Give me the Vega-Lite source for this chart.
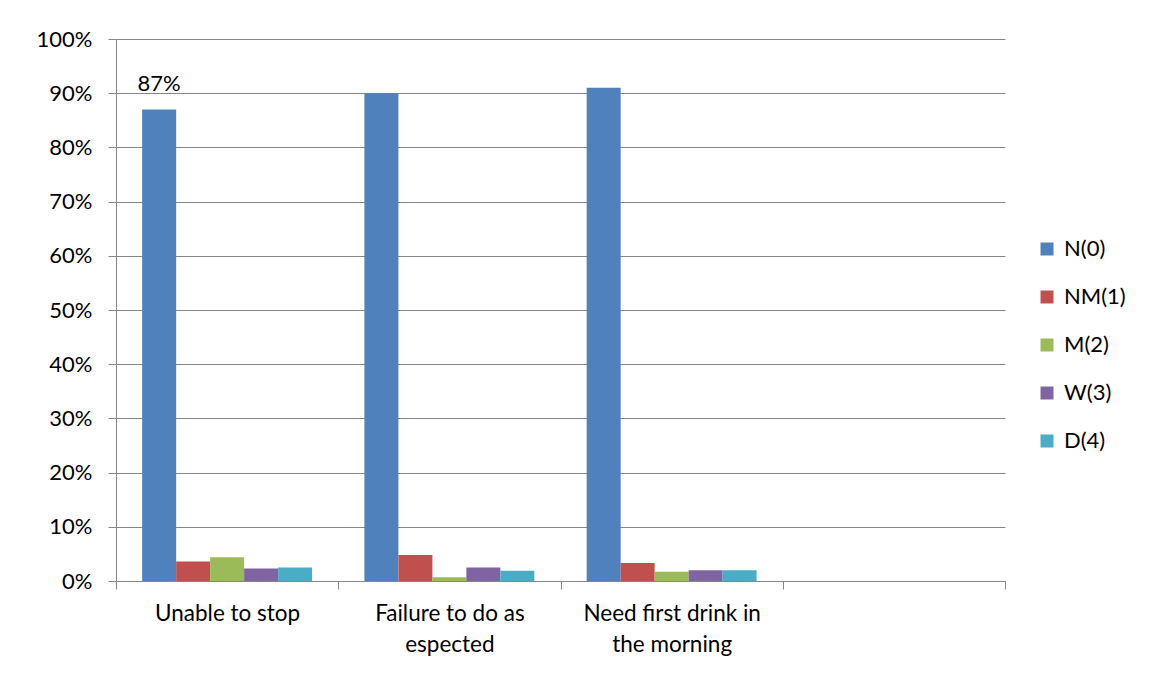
{
  "$schema": "https://vega.github.io/schema/vega-lite/v6.json",
  "width": 889,
  "height": 542,
  "autosize": "none",
  "padding": {"left": 116, "top": 39, "right": 148, "bottom": 95},
  "background": "white",
  "config": {
    "font": "Lato",
    "view": {"stroke": null}
  },
  "data": {
    "values": [
      {"category": "Unable to stop", "series": "N(0)", "value": 0.87, "label": "87%"},
      {"category": "Unable to stop", "series": "NM(1)", "value": 0.036, "label": ""},
      {"category": "Unable to stop", "series": "M(2)", "value": 0.044, "label": ""},
      {"category": "Unable to stop", "series": "W(3)", "value": 0.023, "label": ""},
      {"category": "Unable to stop", "series": "D(4)", "value": 0.025, "label": ""},
      {"category": "Failure to do as espected", "series": "N(0)", "value": 0.90, "label": ""},
      {"category": "Failure to do as espected", "series": "NM(1)", "value": 0.048, "label": ""},
      {"category": "Failure to do as espected", "series": "M(2)", "value": 0.007, "label": ""},
      {"category": "Failure to do as espected", "series": "W(3)", "value": 0.025, "label": ""},
      {"category": "Failure to do as espected", "series": "D(4)", "value": 0.019, "label": ""},
      {"category": "Need first drink in the morning", "series": "N(0)", "value": 0.91, "label": ""},
      {"category": "Need first drink in the morning", "series": "NM(1)", "value": 0.033, "label": ""},
      {"category": "Need first drink in the morning", "series": "M(2)", "value": 0.017, "label": ""},
      {"category": "Need first drink in the morning", "series": "W(3)", "value": 0.020, "label": ""},
      {"category": "Need first drink in the morning", "series": "D(4)", "value": 0.020, "label": ""}
    ]
  },
  "encoding": {
    "x": {
      "field": "category",
      "type": "nominal",
      "sort": null,
      "scale": {
        "domain": ["Unable to stop", "Failure to do as espected", "Need first drink in the morning", "(empty)"],
        "paddingInner": 0,
        "paddingOuter": 0
      },
      "axis": {
        "title": null,
        "labelAngle": 0,
        "labelFontSize": 22.5,
        "labelColor": "#000000",
        "labelPadding": 13,
        "labelLineHeight": 31,
        "labelBaseline": "top",
        "labelExpr": "datum.value == 'Failure to do as espected' ? ['Failure to do as', 'espected'] : datum.value == 'Need first drink in the morning' ? ['Need first drink in', 'the morning'] : datum.value == '(empty)' ? '' : datum.value",
        "tickBand": "extent",
        "tickSize": 8,
        "tickColor": "#868686",
        "domainColor": "#868686",
        "grid": false
      }
    },
    "xOffset": {
      "field": "series",
      "type": "nominal",
      "sort": ["N(0)", "NM(1)", "M(2)", "W(3)", "D(4)"],
      "scale": {"paddingInner": 0, "paddingOuter": 0.77}
    },
    "y": {
      "field": "value",
      "type": "quantitative",
      "scale": {"domain": [0, 1], "nice": false},
      "axis": {
        "title": null,
        "format": ".0%",
        "values": [0, 0.1, 0.2, 0.3, 0.4, 0.5, 0.6, 0.7, 0.8, 0.9, 1],
        "labelFontSize": 22,
        "labelColor": "#000000",
        "labelPadding": 16,
        "tickSize": 8,
        "tickColor": "#868686",
        "domainColor": "#868686",
        "gridColor": "#868686",
        "gridOpacity": 1
      }
    }
  },
  "layer": [
    {
      "mark": {"type": "bar"},
      "encoding": {
        "color": {
          "field": "series",
          "type": "nominal",
          "sort": ["N(0)", "NM(1)", "M(2)", "W(3)", "D(4)"],
          "scale": {
            "domain": ["N(0)", "NM(1)", "M(2)", "W(3)", "D(4)"],
            "range": ["#4F81BD", "#C0504D", "#9BBB59", "#8064A2", "#4BACC6"]
          },
          "legend": {
            "title": null,
            "orient": "none",
            "legendX": 920,
            "legendY": 199,
            "symbolType": "square",
            "symbolSize": 169,
            "symbolStrokeWidth": 0,
            "labelFontSize": 22,
            "labelColor": "#000000",
            "labelOffset": 6,
            "rowPadding": 26
          }
        }
      }
    },
    {
      "mark": {"type": "text", "baseline": "alphabetic", "dy": -18, "fontSize": 22, "color": "#000000"},
      "encoding": {
        "text": {"field": "label"}
      }
    }
  ]
}
